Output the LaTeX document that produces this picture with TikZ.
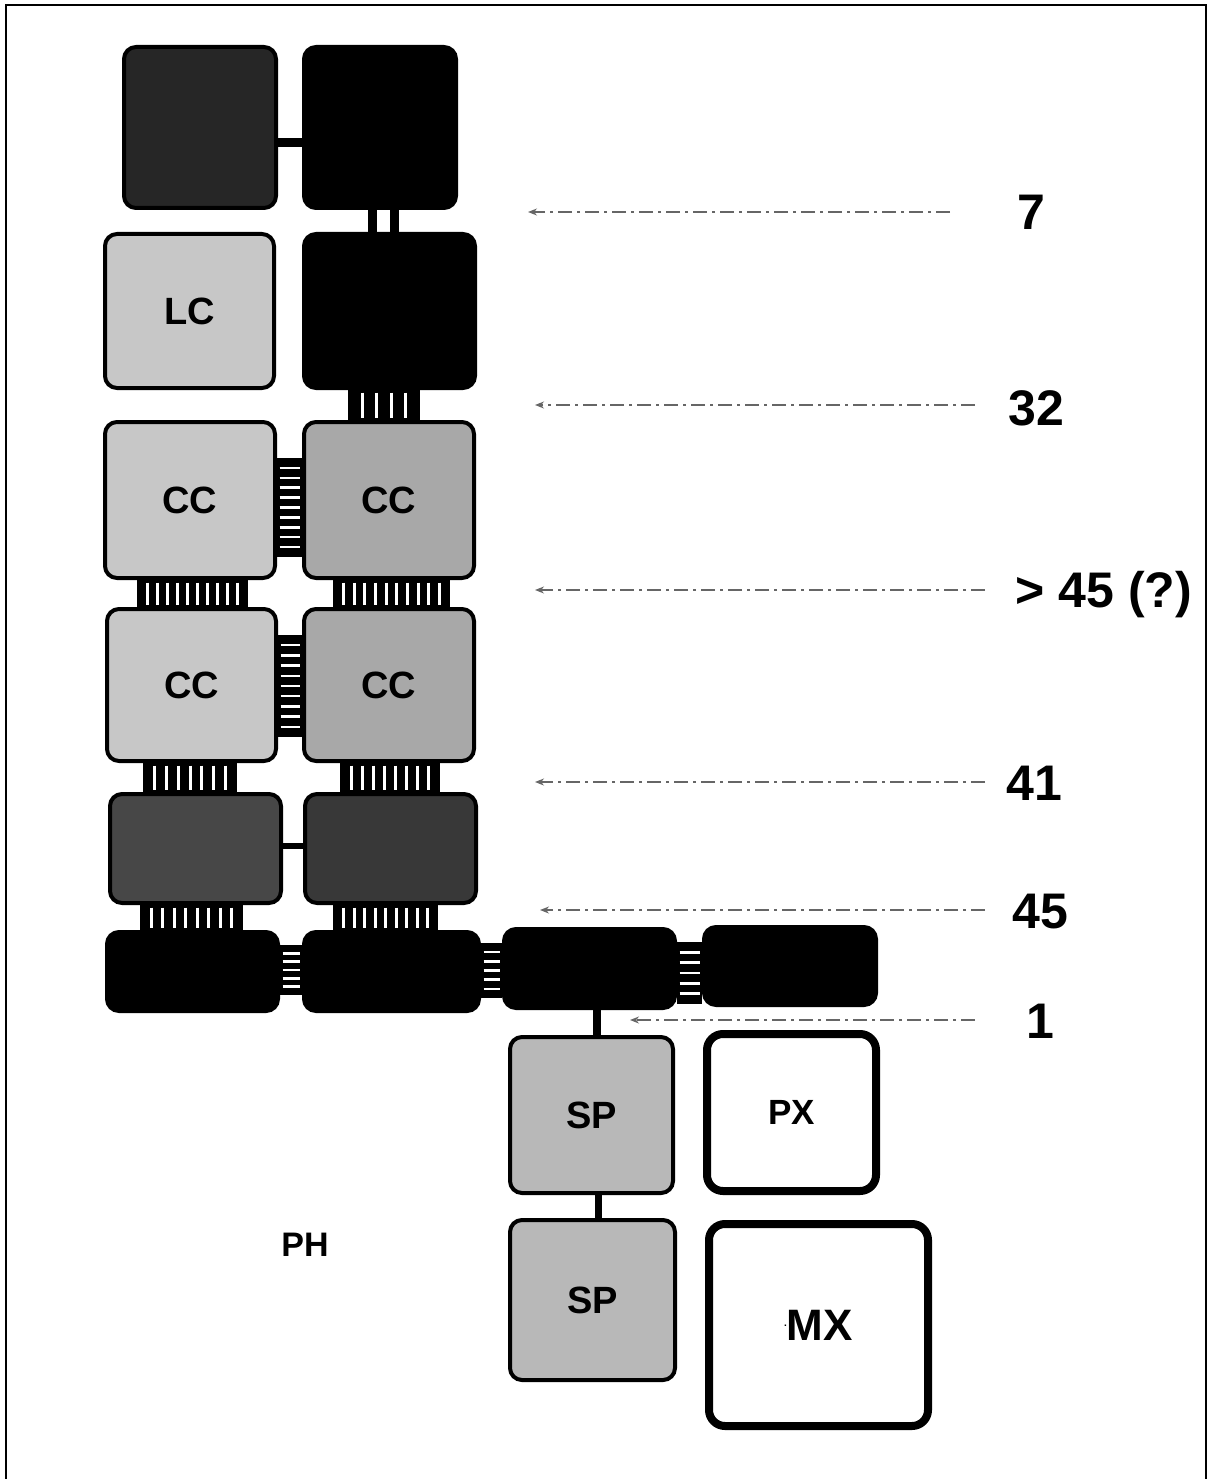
\documentclass[tikz,border=0pt]{standalone}
\usepackage{fontspec}
\setmainfont{Liberation Sans}
\usetikzlibrary{calc,arrows.meta}
\newcommand\vbus[5]{%
  \fill (#3,0 |- #1.south) rectangle (#4,0 |- #2.north);
  \foreach \k in {1,...,#5}{%
    \pgfmathsetmacro\xx{#3+(#4-#3)*\k/(#5+1)}%
    \draw[white, line width=3pt] ($(\xx,0 |- #1.south)+(0,2.5)$) -- ($(\xx,0 |- #2.north)+(0,-2.5)$);
  }%
}
\newcommand\hbus[5]{%
  \fill (#1.east |- 0,#3) rectangle (#2.west |- 0,#4);
  \foreach \k in {1,...,#5}{%
    \pgfmathsetmacro\yy{#3+(#4-#3)*\k/(#5+1)}%
    \draw[white, line width=2.5pt] ($(#1.east |- 0,\yy)+(2.5,0)$) -- ($(#2.west |- 0,\yy)+(-2.5,0)$);
  }%
}
\begin{document}
\begin{tikzpicture}[x=1pt,y=-1pt,
  blk/.style={rounded corners=12pt, draw=black, line width=4pt, inner sep=0pt, fill=black},
  lt/.style={blk, fill=black!22, font=\fontsize{38}{40}\selectfont\bfseries},
  ltd/.style={lt, fill=black!34},
  drk/.style={blk, fill=black!72},
  wht/.style={blk, fill=white, line width=8pt, rounded corners=16pt},
  num/.style={font=\fontsize{50}{52}\selectfont\bfseries, anchor=base, inner sep=0pt},
  arr/.style={draw=black!60, line width=1.3pt, dash pattern=on 14pt off 5pt on 3pt off 5pt, -{Stealth[length=9pt,width=7pt]}},
  link/.style={line width=#1, draw=black},
]
\useasboundingbox (0,0) rectangle (1208,1479);
% frame
\draw[line width=2.5pt] (6,1479) -- (6,5) -- (1206,5) -- (1206,1479);

% row 1
\node[blk, fill=black!85, minimum width=152pt, minimum height=161pt] (A) at (200,127.5) {};
\node[blk, minimum width=152pt, minimum height=161pt] (B) at (380,127.5) {};
% row 2
\node[lt, minimum width=169pt, minimum height=154pt] (LC) at (189.5,311) {LC};
\node[blk, minimum width=171pt, minimum height=154pt] (R2) at (389.5,311) {};
% row 3
\node[lt, minimum width=170pt, minimum height=156pt] (CC1) at (190,500) {CC};
\node[ltd, minimum width=170pt, minimum height=156pt] (CC2) at (389,500) {CC};
% row 4
\node[lt, minimum width=169pt, minimum height=152pt] (CC3) at (191.5,685) {CC};
\node[ltd, minimum width=170pt, minimum height=152pt] (CC4) at (389,685) {CC};
% row 5
\node[drk, minimum width=171pt, minimum height=109pt] (D1) at (195.5,848.5) {};
\node[drk, fill=black!78, minimum width=171pt, minimum height=109pt] (D2) at (390.5,848.5) {};
% row 6
\node[blk, minimum width=171pt, minimum height=79pt] (E1) at (192.5,971.5) {};
\node[blk, minimum width=175pt, minimum height=79pt] (E2) at (391.5,971.5) {};
\node[blk, minimum width=171pt, minimum height=79pt] (E3) at (589.5,968.5) {};
\node[blk, minimum width=172pt, minimum height=78pt] (E4) at (790,966) {};
% SP column
\node[lt, fill=black!28, minimum width=163pt, minimum height=156pt] (SP1) at (591.5,1115) {SP};
\node[lt, fill=black!28, minimum width=165pt, minimum height=160pt] (SP2) at (592.5,1300) {SP};
% PX, MX
\node[wht, minimum width=169pt, minimum height=157pt, font=\fontsize{35}{37}\selectfont\bfseries] (PX) at (791.5,1112.5) {PX};
\node[wht, minimum width=219pt, minimum height=202pt, font=\fontsize{44}{46}\selectfont\bfseries] (MX) at (818.5,1325) {\raisebox{0.32em}{\fontsize{10}{10}\selectfont .}MX};
\node[font=\fontsize{34}{36}\selectfont\bfseries] (PH) at (305,1245) {PH};

% connectors
\draw[link=9pt] (A.east |- 0,143) -- (B.west |- 0,143);
\draw[link=9pt] (372.5,0 |- B.south) -- (372.5,0 |- R2.north);
\draw[link=9pt] (394,0 |- B.south) -- (394,0 |- R2.north);
\vbus{R2}{CC2}{348}{420}{4}
\hbus{CC1}{CC2}{458}{557}{9}
\vbus{CC1}{CC3}{137}{248}{10}
\vbus{CC2}{CC4}{333}{450}{10}
\hbus{CC3}{CC4}{635}{737}{9}
\vbus{CC3}{D1}{143}{237}{7}
\vbus{CC4}{D2}{340}{440}{8}
\draw[link=6pt] (D1.east |- 0,846) -- (D2.west |- 0,846);
\vbus{D1}{E1}{140}{243}{8}
\vbus{D2}{E2}{333}{438}{9}
\hbus{E1}{E2}{945}{995}{5}
\hbus{E2}{E3}{943}{998}{5}
\hbus{E3}{E4}{942}{1004}{5}
\draw[link=8pt] (597,0 |- E3.south) -- (597,0 |- SP1.north);
\draw[link=7pt] (598,0 |- SP1.south) -- (598,0 |- SP2.north);

% level arrows and labels
\node[num] (n7) at (1031,230) {7};
\node[num] (n32) at (1036,425) {32};
\node[num] (n45q) at (1104,607) {> 45 (?)};
\node[num] (n41) at (1034,800) {41};
\node[num] (n45) at (1040,928) {45};
\node[num] (n1) at (1040,1038) {1};
\coordinate (s7) at (950,212);   \coordinate (e7) at (528,212);
\coordinate (s32) at (975,405);  \coordinate (e32) at (535,405);
\coordinate (s45q) at (985,590); \coordinate (e45q) at (535,590);
\coordinate (s41) at (985,782);  \coordinate (e41) at (535,782);
\coordinate (s45) at (985,910);  \coordinate (e45) at (540,910);
\coordinate (s1) at (975,1020);  \coordinate (e1) at (630,1020);
\foreach \p in {7,32,45q,41,45,1}{\draw[arr] (s\p) -- (e\p);}
\end{tikzpicture}
\end{document}
